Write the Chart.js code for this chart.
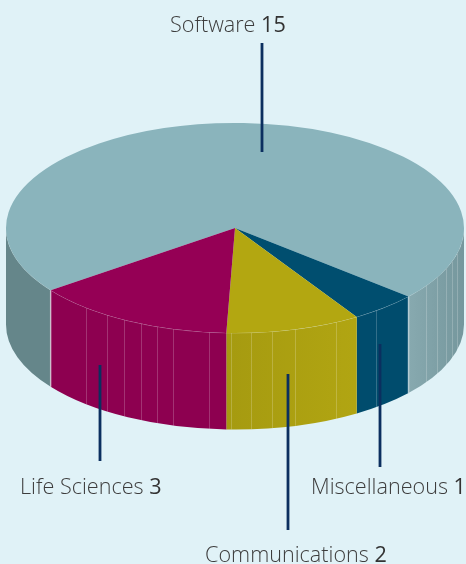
<!DOCTYPE html>
<html><head><meta charset="utf-8">
<style>html,body{margin:0;padding:0;background:#e0f2f7;overflow:hidden}canvas{display:block}</style>
<script src="https://cdn.jsdelivr.net/npm/chart.js@4"></script>
</head><body><canvas id="c" width="466" height="564"></canvas>
<script>
const categories=["Software","Miscellaneous","Communications","Life Sciences"];
const values=[15,1,2,3];
const topColors=["#8ab4bc","#004e6f","#b3a711","#950055"];
const wallColors=["#7da0a7","#004c6d","#ada00f","#8d0050"];
const startDegrees=143.6;
const centerY=228,radiusY=105,depth=96.5;
const seams=[86,107,124,141,157,173,209,231,251,272,295,336,376,426,437,446,452,457];
const callouts=[
 {i:0,x:262,y1:43,y2:152,tx:170,ty:32},
 {i:1,x:380,y1:344,y2:467,tx:311,ty:494},
 {i:2,x:288,y1:374,y2:530,tx:205,ty:562},
 {i:3,x:100,y1:365,y2:461,tx:20,ty:494}
];
const FONT='"Open Sans","Liberation Sans",sans-serif';
const pie3d={
 id:'pie3d',
 beforeDatasetsDraw(chart){
  const ctx=chart.ctx,arcs=chart.getDatasetMeta(0).data,a0=arcs[0];
  const cx=a0.x,rx=a0.outerRadius;
  const wall=(s,e,fill)=>{
   s=Math.max(s,0);e=Math.min(e,Math.PI);if(e<=s)return;
   ctx.beginPath();
   ctx.ellipse(cx,centerY,rx,radiusY,0,s,e);
   ctx.ellipse(cx,centerY+depth,rx,radiusY,0,e,s,true);
   ctx.closePath();ctx.fillStyle=fill;ctx.fill();
  };
  const T=2*Math.PI;
  arcs.forEach((a,i)=>{
   let s=a.startAngle,e=a.endAngle;
   while(s<0){s+=T;e+=T;}
   while(s>=T){s-=T;e-=T;}
   if(i===0){
    wall(s,e,'#65868a');
    const g=ctx.createLinearGradient(cx+rx,0,cx+rx*0.75,0);
    g.addColorStop(0,'#75979d');g.addColorStop(1,'#88aab0');
    wall(0,e-T,g);
   } else if(i===2){
    const g=ctx.createLinearGradient(cx-15,0,cx+120,0);
    g.addColorStop(0,'#a59a10');g.addColorStop(1,'#b1a512');
    wall(s,e,g);
   } else wall(s,e,wallColors[i]);
  });
  ctx.save();
  ctx.lineWidth=1;
  seams.forEach(x=>{
   const u=(x-cx)/rx,y=centerY+radiusY*Math.sqrt(1-u*u);
   ctx.strokeStyle='rgba(255,255,255,0.2)';
   ctx.beginPath();ctx.moveTo(x+.5,y);ctx.lineTo(x+.5,y+depth);ctx.stroke();
  });
  ctx.strokeStyle='rgba(255,255,255,0.25)';
  ctx.beginPath();ctx.ellipse(cx,centerY,rx,radiusY,0,0,Math.PI);ctx.stroke();
  let s0=a0.startAngle,e0=a0.endAngle-T;
  while(s0<0)s0+=T;
  while(e0<0)e0+=T;
  while(e0>=T)e0-=T;
  ctx.strokeStyle='rgba(255,255,255,0.55)';ctx.lineWidth=1.5;
  [s0,e0].forEach(t=>{
   const x=cx+rx*Math.cos(t),y=centerY+radiusY*Math.sin(t);
   ctx.beginPath();ctx.moveTo(x,y);ctx.lineTo(x,y+depth);ctx.stroke();
  });
  ctx.restore();
  ctx.save();
  ctx.translate(cx,centerY);ctx.scale(1,radiusY/rx);ctx.translate(-cx,-a0.y);
 },
 afterDatasetsDraw(chart){
  const ctx=chart.ctx;
  ctx.restore();
  ctx.save();
  callouts.forEach(c=>{
   ctx.strokeStyle='#0b2f5f';ctx.lineWidth=2.8;
   ctx.beginPath();ctx.moveTo(c.x,c.y1);ctx.lineTo(c.x,c.y2);ctx.stroke();
   const name=categories[c.i]+' ',val=String(values[c.i]);
   ctx.textBaseline='alphabetic';ctx.textAlign='left';
   ctx.fillStyle='#3d3d3d';
   ctx.font='300 21.6px '+FONT;
   ctx.fillText(name,c.tx,c.ty);
   const w=ctx.measureText(name).width;
   ctx.fillStyle='#333333';
   ctx.font='500 21.6px '+FONT;
   ctx.fillText(val,c.tx+w,c.ty);
  });
  ctx.restore();
 }
};
new Chart(document.getElementById('c'),{
 type:'pie',
 data:{labels:categories,datasets:[{data:values,backgroundColor:topColors,borderWidth:0,hoverOffset:0,clip:false}]},
 options:{
  responsive:false,animation:false,rotation:startDegrees+90,
  layout:{padding:{left:6,right:2,top:0,bottom:0}},
  events:[],
  plugins:{legend:{display:false},tooltip:{enabled:false},title:{display:false}}
 },
 plugins:[pie3d]
});
</script></body></html>
